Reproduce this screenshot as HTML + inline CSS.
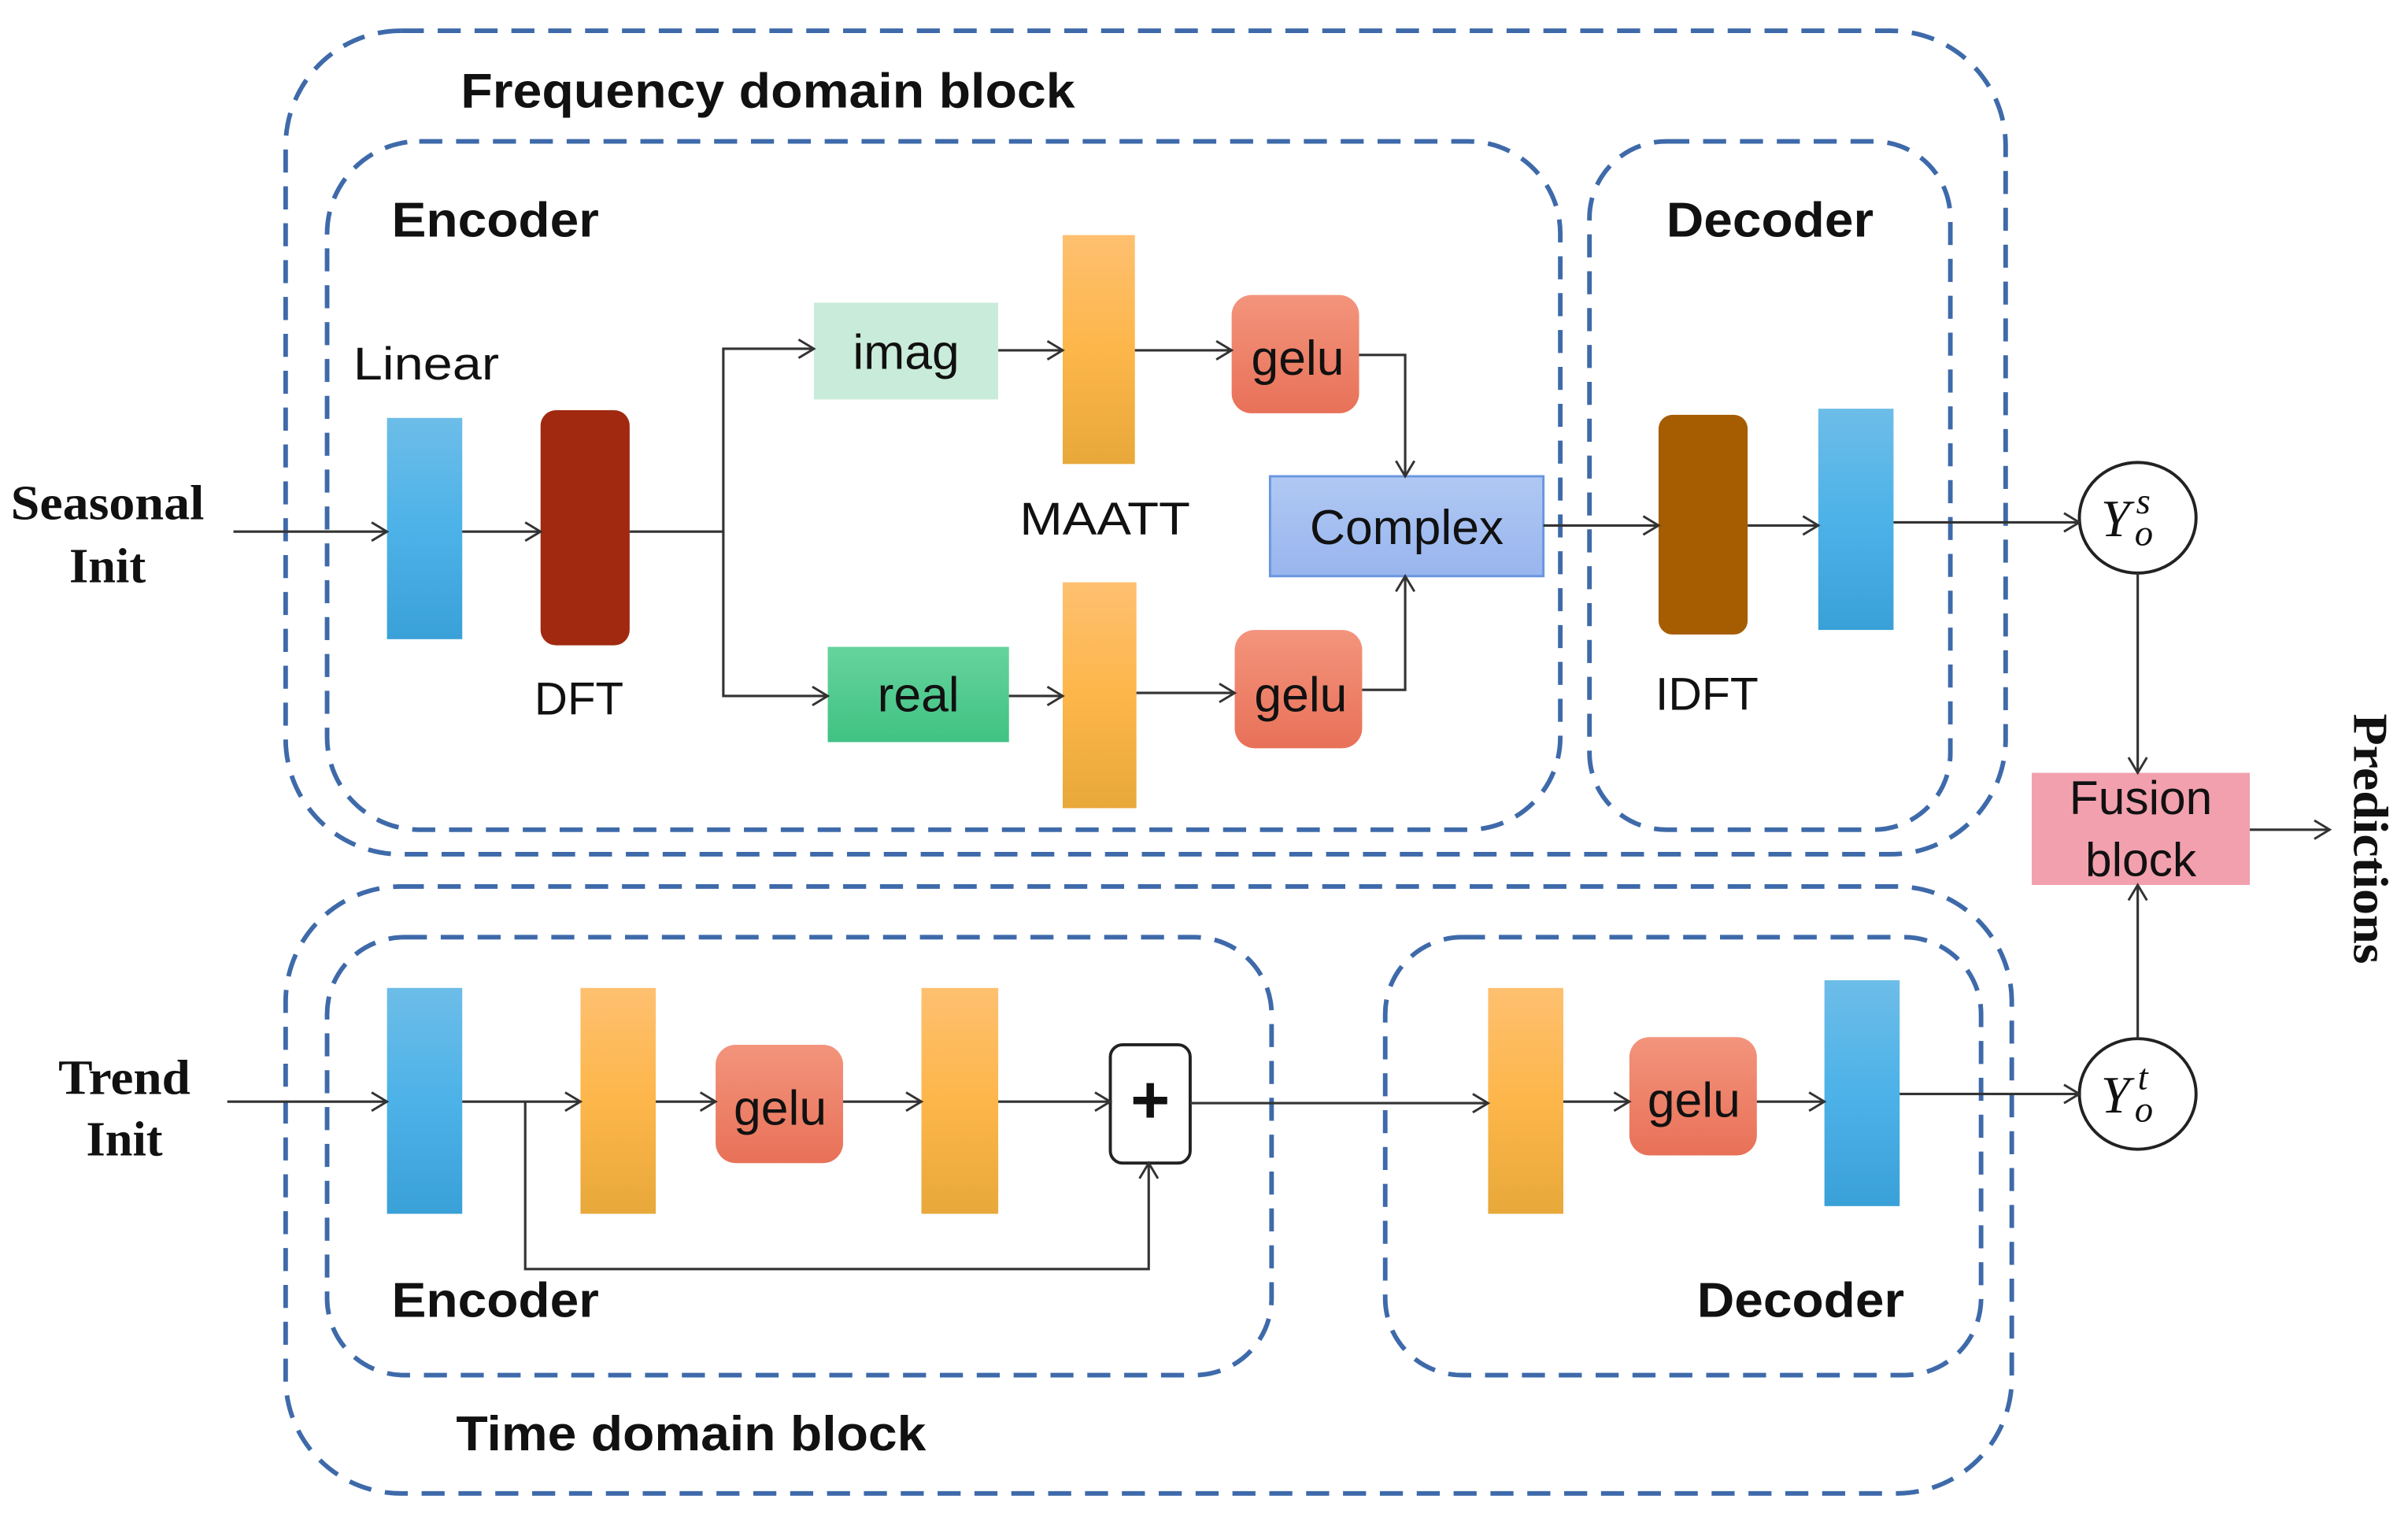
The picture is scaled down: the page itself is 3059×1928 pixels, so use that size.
<!DOCTYPE html>
<html><head><meta charset="utf-8"><style>html,body{margin:0;padding:0;background:#fff}svg{display:block}</style></head>
<body>
<svg width="3059" height="1928" viewBox="0 0 1568 988" preserveAspectRatio="none" xmlns="http://www.w3.org/2000/svg">
<defs>
<marker id="a" markerWidth="14" markerHeight="14" refX="12" refY="7" orient="auto" markerUnits="userSpaceOnUse"><polyline points="2,1 12,7 2,13" fill="none" stroke="#333" stroke-width="1.5"/></marker>
<linearGradient id="blue" x1="0" y1="0" x2="0" y2="1"><stop offset="0" stop-color="#6dbde8"/><stop offset="0.5" stop-color="#4cb2e8"/><stop offset="1" stop-color="#3aa0d8"/></linearGradient>
<linearGradient id="org" x1="0" y1="0" x2="0" y2="1"><stop offset="0" stop-color="#fec070"/><stop offset="0.5" stop-color="#fdb64a"/><stop offset="1" stop-color="#e8a83a"/></linearGradient>
<linearGradient id="gelu" x1="0" y1="0" x2="0" y2="1"><stop offset="0" stop-color="#f3947c"/><stop offset="1" stop-color="#e87158"/></linearGradient>
<linearGradient id="real" x1="0" y1="0" x2="0" y2="1"><stop offset="0" stop-color="#66d39d"/><stop offset="1" stop-color="#40c283"/></linearGradient>
<linearGradient id="cpx" x1="0" y1="0" x2="0" y2="1"><stop offset="0" stop-color="#b0c8f3"/><stop offset="1" stop-color="#98b5ee"/></linearGradient>
</defs>
<g fill="none" stroke="#3e6aaa" stroke-width="3" stroke-dasharray="15 9">
<rect x="186" y="20" width="1120" height="536" rx="75"/>
<rect x="213" y="92" width="803" height="448" rx="60"/>
<rect x="1035" y="92" width="235" height="448" rx="50"/>
<rect x="186" y="577" width="1124" height="395" rx="75"/>
<rect x="213" y="610" width="615" height="285" rx="50"/>
<rect x="902" y="610" width="388" height="285" rx="50"/>
</g>
<g font-family="Liberation Sans, sans-serif" font-weight="bold" font-size="32" fill="#111" lengthAdjust="spacingAndGlyphs">
<text x="300" y="70" textLength="400" lengthAdjust="spacingAndGlyphs">Frequency domain block</text>
<text x="255" y="154" textLength="135" lengthAdjust="spacingAndGlyphs">Encoder</text>
<text x="1085" y="154" textLength="135" lengthAdjust="spacingAndGlyphs">Decoder</text>
<text x="297" y="944" textLength="306" lengthAdjust="spacingAndGlyphs">Time domain block</text>
<text x="255" y="857" textLength="135" lengthAdjust="spacingAndGlyphs">Encoder</text>
<text x="1105" y="857" textLength="135" lengthAdjust="spacingAndGlyphs">Decoder</text>
</g>
<g font-family="Liberation Serif, serif" font-weight="bold" font-size="32" fill="#111" text-anchor="middle">
<text x="70" y="338" textLength="126" lengthAdjust="spacingAndGlyphs">Seasonal</text><text x="70" y="379">Init</text>
<text x="81" y="712" textLength="86" lengthAdjust="spacingAndGlyphs">Trend</text><text x="81" y="752">Init</text>
<text transform="translate(1533,546) rotate(90)" textLength="163" lengthAdjust="spacingAndGlyphs">Predictions</text>
</g>
<g font-family="Liberation Sans, sans-serif" font-size="30" fill="#111">
<text x="230" y="247" textLength="95" lengthAdjust="spacingAndGlyphs">Linear</text>
<text x="348" y="465" textLength="58" lengthAdjust="spacingAndGlyphs">DFT</text>
<text x="664" y="348" textLength="111" lengthAdjust="spacingAndGlyphs">MAATT</text>
<text x="1078" y="462" textLength="67" lengthAdjust="spacingAndGlyphs">IDFT</text>
</g>
<rect x="252" y="272" width="49" height="144" fill="url(#blue)"/>
<rect x="352" y="267" width="58" height="153" rx="10" fill="#a0290f"/>
<rect x="530" y="197" width="120" height="63" fill="#c9ecda"/>
<rect x="539" y="421" width="118" height="62" fill="url(#real)"/>
<rect x="692" y="153" width="47" height="149" fill="url(#org)"/>
<rect x="692" y="379" width="48" height="147" fill="url(#org)"/>
<rect x="802" y="192" width="83" height="77" rx="13" fill="url(#gelu)"/>
<rect x="804" y="410" width="83" height="77" rx="13" fill="url(#gelu)"/>
<rect x="827" y="310" width="178" height="65" fill="url(#cpx)" stroke="#6a96e0" stroke-width="1.5"/>
<rect x="1080" y="270" width="58" height="143" rx="9" fill="#a65c00"/>
<rect x="1184" y="266" width="49" height="144" fill="url(#blue)"/>
<rect x="1323" y="503" width="142" height="73" fill="#f2a0ae"/>
<ellipse cx="1392" cy="337" rx="38" ry="36" fill="#fff" stroke="#222" stroke-width="2"/>
<ellipse cx="1392" cy="712" rx="38" ry="36" fill="#fff" stroke="#222" stroke-width="2"/>
<rect x="252" y="643" width="49" height="147" fill="url(#blue)"/>
<rect x="378" y="643" width="49" height="147" fill="url(#org)"/>
<rect x="466" y="680" width="83" height="77" rx="13" fill="url(#gelu)"/>
<rect x="600" y="643" width="50" height="147" fill="url(#org)"/>
<rect x="723" y="680" width="52" height="77" rx="8" fill="#fff" stroke="#222" stroke-width="2"/>
<rect x="969" y="643" width="49" height="147" fill="url(#org)"/>
<rect x="1061" y="675" width="83" height="77" rx="13" fill="url(#gelu)"/>
<rect x="1188" y="638" width="49" height="147" fill="url(#blue)"/>
<g font-family="Liberation Sans, sans-serif" font-size="32" fill="#111" text-anchor="middle">
<text x="590" y="240">imag</text>
<text x="598" y="463">real</text>
<text x="845" y="244">gelu</text>
<text x="847" y="463">gelu</text>
<text x="916" y="354">Complex</text>
<text x="508" y="732">gelu</text>
<text x="1103" y="727">gelu</text>
<text x="1394" y="530" font-size="31">Fusion</text>
<text x="1394" y="570" font-size="31">block</text>
<text x="749" y="731" font-size="44" font-weight="bold">+</text>
</g>
<g font-family="Liberation Serif, serif" font-style="italic" fill="#111">
<text x="1368" y="349" font-size="34">Y</text><text x="1391" y="334" font-size="24">s</text><text x="1390" y="355" font-size="24">o</text>
<text x="1368" y="724" font-size="34">Y</text><text x="1392" y="709" font-size="24">t</text><text x="1390" y="730" font-size="24">o</text>
</g>
<g fill="none" stroke="#333" stroke-width="1.6" marker-end="url(#a)">
<path d="M152 346H252"/><path d="M301 346H352"/>
<path d="M410 346H471V227H530"/><path d="M471 346V453H539"/>
<path d="M650 228H692"/><path d="M739 228H802"/>
<path d="M885 231H915V310"/><path d="M657 453H692"/><path d="M740 451H804"/>
<path d="M887 449H915V375"/>
<path d="M1005 342H1080"/><path d="M1138 342H1184"/><path d="M1233 340H1354"/>
<path d="M1392 373V503"/><path d="M1392 676V576"/><path d="M1465 540H1517"/>
<path d="M148 717H252"/><path d="M301 717H378"/>
<path d="M342 717V826H748V757"/>
<path d="M427 717H466"/><path d="M549 717H600"/><path d="M650 717H723"/>
<path d="M775 718H969"/><path d="M1018 717H1061"/><path d="M1144 717H1188"/>
<path d="M1237 712H1354"/>
</g>
</svg>
</body></html>
